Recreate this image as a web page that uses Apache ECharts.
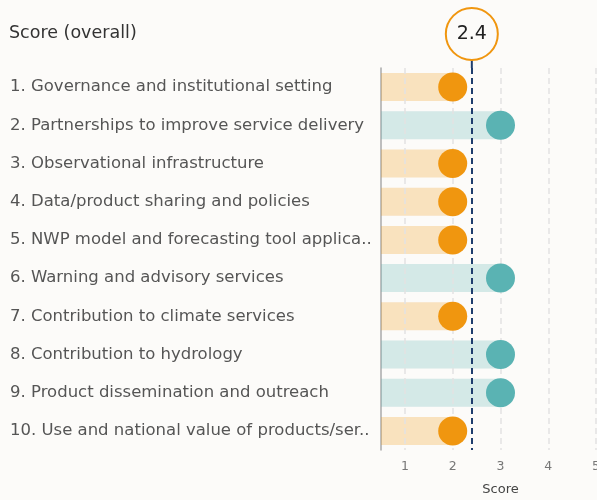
<!DOCTYPE html>
<html>
<head>
<meta charset="utf-8">
<script src="https://cdn.jsdelivr.net/npm/echarts@6/dist/echarts.min.js"></script>
<style>
  html, body { margin: 0; padding: 0; background: #fcfbf9; }
  #chart { width: 597px; height: 500px; }
</style>
</head>
<body>
<div id="chart"></div>
<script>
var categories = [
  '1. Governance and institutional setting',
  '2. Partnerships to improve service delivery',
  '3. Observational infrastructure',
  '4. Data/product sharing and policies',
  '5. NWP model and forecasting tool application',
  '6. Warning and advisory services',
  '7. Contribution to climate services',
  '8. Contribution to hydrology',
  '9. Product dissemination and outreach',
  '10. Use and national value of products/services'
]
var scores = [2, 3, 2, 2, 2, 3, 2, 3, 3, 2]
var overall = 2.4
var ticks = [1, 2, 3, 4, 5]

var font = '"DejaVu Sans", Verdana, sans-serif'
var orange = '#f0960f', teal = '#5ab3b3'
function dotColor(v) { return v >= 3 ? teal : orange }
function barColor(v) { return v >= 3 ? 'rgba(90,179,179,0.25)' : 'rgba(240,150,15,0.25)' }

var myChart = echarts.init(document.getElementById('chart'))
var option = {
  backgroundColor: '#fcfbf9',
  animation: false,
  title: {
    text: 'Score (overall)',
    left: 4,
    top: 19,
    textStyle: { color: '#333', fontSize: 17.5, fontWeight: 'normal', fontFamily: font }
  },
  // plot runs past the right edge, as in the original (5 is cut off)
  grid: { left: 381, right: -23, top: 68, bottom: 50, containLabel: false, outerBoundsMode: 'none' },
  xAxis: {
    type: 'value',
    min: 0.5,
    max: 5.5,
    interval: 0.5,
    name: 'Score',
    nameLocation: 'middle',
    nameGap: 33,
    nameTextStyle: { color: '#444', fontSize: 13, fontFamily: font },
    axisLine: { show: false },
    axisTick: { show: false },
    axisLabel: {
      color: '#777', fontSize: 12.5, fontFamily: font, margin: 10,
      formatter: function (v) { return ticks.indexOf(v) >= 0 ? String(v) : '' }
    },
    splitLine: { show: false }
  },
  yAxis: {
    type: 'category',
    inverse: true,
    data: categories,
    axisLine: { show: true, lineStyle: { color: '#aaa', width: 1.5 } },
    axisTick: { show: false },
    axisLabel: {
      align: 'left',
      margin: 371,
      color: '#555',
      fontSize: 16.5,
      fontFamily: font,
      width: 369,
      overflow: 'truncate',
      ellipsis: '..'
    }
  },
  series: [
    {
      type: 'bar',
      barWidth: 28,
      clip: true,
      data: scores.map(function (v) { return { value: v, itemStyle: { color: barColor(v) } } }),
      markLine: {
        silent: true,
        symbol: 'none',
        label: { show: false },
        lineStyle: { color: '#e2e2e2', type: [6, 4], width: 1.5 },
        data: ticks.map(function (t) { return { xAxis: t } })
      }
    },
    {
      type: 'scatter',
      symbolSize: 29,
      z: 5,
      data: scores.map(function (v) { return { value: v, itemStyle: { color: dotColor(v), opacity: 1 } } }),
      markLine: {
        silent: true,
        symbol: 'none',
        z: 3,
        label: { show: false },
        lineStyle: { color: '#1f3e6e', type: [6, 4], width: 2 },
        data: [{ xAxis: overall }]
      }
    }
  ]
}
myChart.setOption(option)

var cx = myChart.convertToPixel({ xAxisIndex: 0 }, overall)
myChart.setOption({
  graphic: [
    { type: 'line', shape: { x1: cx, y1: 60, x2: cx, y2: 68 }, style: { stroke: '#1f3e6e', lineWidth: 2 } },
    { type: 'circle', shape: { cx: cx, cy: 34, r: 26 }, style: { fill: '#fcfbf9', stroke: orange, lineWidth: 2 } },
    { type: 'text', x: cx, y: 34, style: { text: String(overall), fill: '#222', fontSize: 19, fontFamily: font, align: 'center', verticalAlign: 'middle' } }
  ]
})
</script>
</body>
</html>
